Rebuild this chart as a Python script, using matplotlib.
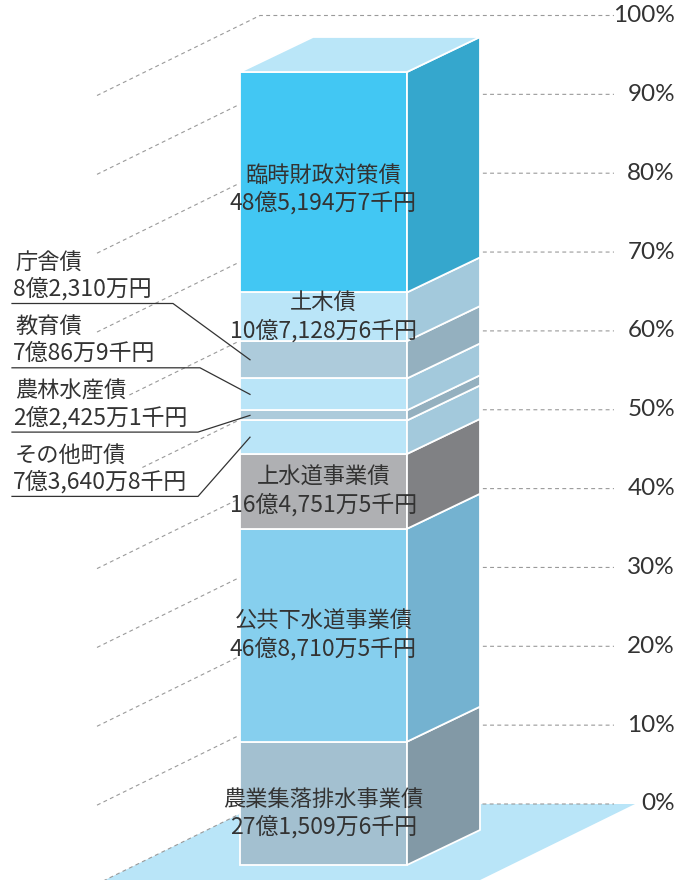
import matplotlib
matplotlib.use("Agg")
import matplotlib.pyplot as plt
from matplotlib.patches import Polygon
import numpy as np

plt.rcParams["font.family"] = ["Noto Sans CJK JP", "DejaVu Sans"]

# 町債の内訳 (下から順), 単位: 億円
categories = ["農業集落排水事業債", "公共下水道事業債", "上水道事業債", "その他町債",
              "農林水産債", "教育債", "庁舎債", "土木債", "臨時財政対策債"]
amount_labels = ["27億1,509万6千円", "46億8,710万5千円", "16億4,751万5千円", "7億3,640万8千円",
                 "2億2,425万1千円", "7億86万9千円", "8億2,310万円", "10億7,128万6千円", "48億5,194万7千円"]
amounts_oku = [27.15096, 46.87105, 16.47515, 7.36408, 2.24251, 7.00869, 8.2310, 10.71286, 48.51947]

pct_ticks = [0, 10, 20, 30, 40, 50, 60, 70, 80, 90, 100]
tick_labels = [f"{p}%" for p in pct_ticks]

front_colors = ["#a3c0d0", "#86cfee", "#afb0b3", "#bae5f8", "#adcbdb",
                "#bae5f8", "#adcbdb", "#bae5f8", "#42c7f3"]
side_colors = ["#8299a6", "#74b2d0", "#808184", "#a3c9dc", "#94b0bf",
               "#a3c9dc", "#94b0bf", "#a3c9dc", "#35a7cd"]
top_color = "#bae6f8"
floor_color = "#b9e5f8"
text_color = "#333333"
grid_color = "#9a9a9a"

inside_labels = ["農業集落排水事業債", "公共下水道事業債", "上水道事業債", "土木債", "臨時財政対策債"]
inside_dy = {"農業集落排水事業債": 10, "臨時財政対策債": 7}
callouts = ["庁舎債", "教育債", "農林水産債", "その他町債"]
callout_line_end = [173, 200, 198, 198]

# layout in pixels
X0, X1 = 240, 407
Y_BOT, Y_TOP = 865, 72
DX, DY = 73, -35
WALL_X, WALL_Y0, WALL_Y100 = 260, 804, 15.5
LEFT_DX, LEFT_DY = -163, 80
GRID_END = 614
FLOOR_RIGHT = 635

fig = plt.figure(figsize=(6.89, 8.80), dpi=100)
ax = fig.add_axes([0, 0, 1, 1])
ax.set_xlim(0, 689)
ax.set_ylim(880, 0)
ax.axis("off")

# floor
fy = 920
ax.add_patch(Polygon([(WALL_X, WALL_Y0), (FLOOR_RIGHT, WALL_Y0),
                      (FLOOR_RIGHT + (fy - WALL_Y0) * LEFT_DX / LEFT_DY, fy),
                      (WALL_X + (fy - WALL_Y0) * LEFT_DX / LEFT_DY, fy)],
                     closed=True, facecolor=floor_color, edgecolor="none", zorder=1))

# back wall grid + percent labels
dash = (0, (3.5, 3))
for p, lab in zip(pct_ticks, tick_labels):
    y = WALL_Y0 + (WALL_Y100 - WALL_Y0) * p / 100
    ax.plot([WALL_X + LEFT_DX, WALL_X, GRID_END], [y + LEFT_DY, y, y],
            color=grid_color, lw=0.8, linestyle=dash, zorder=2)
    ax.text(675, y, lab, ha="right", va="center", fontsize=17.5, color=text_color,
            family=["Lato", "DejaVu Sans"], fontweight="normal", zorder=5)

# stacked 3D bar
total = sum(amounts_oku)
cum = np.concatenate([[0], np.cumsum(amounts_oku)])
ypix = Y_BOT - cum / total * (Y_BOT - Y_TOP)
centers = {}
for i, cat in enumerate(categories):
    yb, yt = ypix[i], ypix[i + 1]
    centers[cat] = (yb + yt) / 2
    ax.add_patch(Polygon([(X0, yb), (X1, yb), (X1, yt), (X0, yt)], closed=True,
                         facecolor=front_colors[i], edgecolor="white", lw=1.3, zorder=3))
    ax.add_patch(Polygon([(X1, yb), (X1 + DX, yb + DY), (X1 + DX, yt + DY), (X1, yt)],
                         closed=True, facecolor=side_colors[i], edgecolor="white",
                         lw=1.3, zorder=3))
ax.add_patch(Polygon([(X0, Y_TOP), (X0 + DX, Y_TOP + DY), (X1 + DX, Y_TOP + DY), (X1, Y_TOP)],
                     closed=True, facecolor=top_color, edgecolor="white", lw=1.3, zorder=3))

# labels inside the bar
xc = (X0 + X1) / 2
for cat in inside_labels:
    i = categories.index(cat)
    yc = centers[cat] + inside_dy.get(cat, 0)
    ax.text(xc, yc - 14, cat, ha="center", va="center", fontsize=16, color=text_color, zorder=6)
    ax.text(xc, yc + 14, amount_labels[i], ha="center", va="center", fontsize=16.5,
            color=text_color, zorder=6)

# callout labels on the left
box = dict(facecolor="white", edgecolor="none", pad=1.5)
for k, cat in enumerate(callouts):
    i = categories.index(cat)
    y0 = 262 + k * 64.3
    ax.text(15, y0, cat, ha="left", va="center", fontsize=16, color=text_color,
            bbox=box, zorder=6)
    ax.text(13, y0 + 27, amount_labels[i], ha="left", va="center", fontsize=16.5,
            color=text_color, bbox=box, zorder=6)
    yl = y0 + 41.5
    ax.plot([12, callout_line_end[k], 250], [yl, yl, centers[cat]],
            color="#333333", lw=0.9, zorder=7)

fig.savefig("out.png", dpi=100)
